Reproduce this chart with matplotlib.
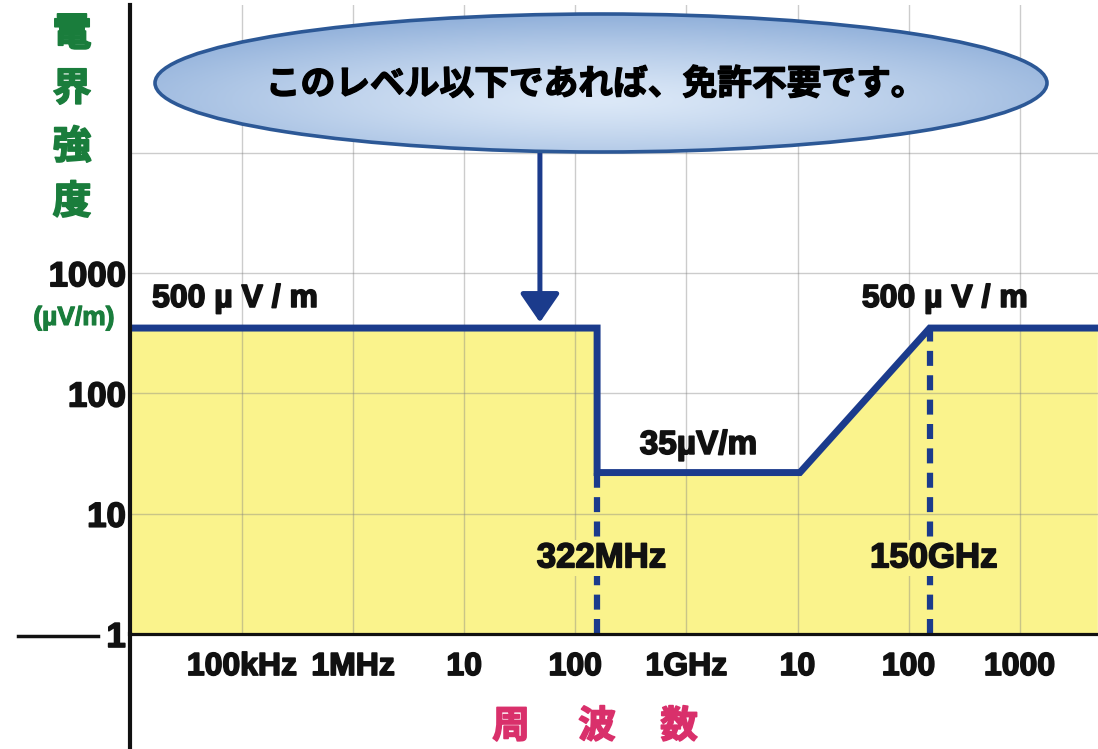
import numpy as np
import matplotlib
matplotlib.use('Agg')
import matplotlib.pyplot as plt
import matplotlib.patheffects as pe
from matplotlib.patches import Ellipse
from matplotlib.lines import Line2D

# 周波数 [Hz] と 電界強度 [uV/m] (図から読み取った値, 図は模式的)
freq = [1.0e4, 1.57e8, 1.57e8, 1.05e10, 1.55e11, 5.0e12]
level = [350, 350, 22, 22, 350, 350]

# 破線の位置とラベル
mark_freq = [1.57e8, 1.55e11]
mark_top = [22, 350]
mark_text = ['322MHz', '150GHz']

xticks = [1e5, 1e6, 1e7, 1e8, 1e9, 1e10, 1e11, 1e12]
xlabels = ['100kHz', '1MHz', '10', '100', '1GHz', '10', '100', '1000']
yticks = [1, 10, 100, 1000, 10000]
ylabels = ['1', '10', '100', '1000', '']

navy = '#1b3b8c'
yellow = '#faf38c'
green = '#1a7d3c'
magenta = '#d9306b'
latin = 'Liberation Sans'
cjk = ['Noto Sans CJK JP', 'DejaVu Sans']


def heavy(c, w=1.2):
    # 文字を太く見せる
    return [pe.withStroke(linewidth=w, foreground=c)]


W, H = 1098, 749
fig = plt.figure(figsize=(W / 100, H / 100), dpi=100)
ax = fig.add_axes([130 / W, 115 / H, 968 / W, 629 / H])
ax.set_xscale('log')
ax.set_yscale('log')
ax.set_xlim(9.8e3, 5.07e12)
ax.set_ylim(1, 1.7e5)

# 黄色の領域と境界線
ax.fill_between(freq, level, 1, color=yellow, lw=0, zorder=1)
ax.plot(freq, level, color=navy, lw=5, solid_joinstyle='miter', zorder=4)
for f, top in zip(mark_freq, mark_top):
    ax.plot([f, f], [1, top], color=navy, lw=4.5, dashes=(2.4, 1.5), zorder=4)

ax.set_xticks(xticks)
ax.set_xticklabels(xlabels, fontfamily=latin, fontweight='bold', fontsize=23)
ax.set_yticks(yticks)
ax.set_yticklabels(ylabels, fontfamily=latin, fontweight='bold', fontsize=25)
for t in ax.get_xticklabels() + ax.get_yticklabels():
    t.set_path_effects(heavy('#111111'))
    t.set_color('#111111')
ax.minorticks_off()
ax.tick_params(axis='x', length=0, pad=13)
ax.tick_params(axis='y', length=0, pad=3)
ax.set_axisbelow(False)
ax.grid(True, color='#808080', lw=1, alpha=0.4)
for s in ['top', 'right']:
    ax.spines[s].set_visible(False)
ax.spines['left'].set_linewidth(3)
ax.spines['bottom'].set_linewidth(2.3)
ax.spines['left'].set_color('#111111')
ax.spines['bottom'].set_color('#111111')
ax.spines['left'].set_zorder(6)
ax.spines['bottom'].set_zorder(6)

# 縦軸の下への延長と「1」の前の線
fig.add_artist(Line2D([130 / W, 130 / W], [0, 115 / H], color='#111111', lw=3))
fig.add_artist(Line2D([18 / W, 98 / W], [1 - 636 / H, 1 - 636 / H], color='#111111', lw=2.5))

# 矢印
ax.annotate('', xy=(4.8e7, 390), xytext=(4.8e7, 1.28e4),
            arrowprops=dict(arrowstyle='-|>,head_width=0.55,head_length=0.8',
                            lw=3.6, color=navy, shrinkA=0, shrinkB=0,
                            mutation_scale=22), zorder=5)

# ラベル
txt = dict(fontfamily=latin, fontweight='bold', color='#111111', zorder=7,
           path_effects=heavy('#111111'))
ax.text(1.55e4, 611, '500 µ V / m', fontsize=23, ha='left', va='center', **txt)
ax.text(3.8e10, 611, '500 µ V / m', fontsize=23, ha='left', va='center', **txt)
ax.text(3.8e8, 37, '35µV/m', fontsize=24, ha='left', va='center', **txt)
box = dict(facecolor=yellow, edgecolor='none', pad=1)
ax.text(4.5e7, 4.3, mark_text[0], fontsize=25, ha='left', va='center', bbox=box, **txt)
ax.text(4.5e10, 4.3, mark_text[1], fontsize=25, ha='left', va='center', bbox=box, **txt)

# 吹き出し (楕円)
eax = fig.add_axes([155 / W, 1 - 152 / H, 892 / W, 138 / H])
eax.set_xlim(0, 1)
eax.set_ylim(0, 1)
eax.axis('off')
u, v = np.meshgrid(np.linspace(-1, 1, 300), np.linspace(-1, 1, 120))
r = np.clip(np.sqrt(u ** 2 + (v + 0.25) ** 2) / 1.2, 0, 1) ** 1.3
light = np.array([0.86, 0.91, 0.97])
dark = np.array([0.58, 0.70, 0.86])
img = light + (dark - light) * r[..., None]
ell = Ellipse((0.5, 0.5), 1, 1, facecolor='none', edgecolor='#2c5896', lw=2.6,
              clip_on=False, zorder=3)
eax.add_patch(ell)
im = eax.imshow(img, extent=[0, 1, 0, 1], origin='lower', aspect='auto', zorder=2)
im.set_clip_path(ell)
fig.text(596 / W, 1 - 84 / H, 'このレベル以下であれば、免許不要です。',
         fontfamily=cjk, fontweight='bold', fontsize=25, ha='center', va='center',
         path_effects=heavy('black', 1.0))

# 軸タイトル
for ch, yp in zip('電界強度', [34, 89, 147, 202]):
    fig.text(72 / W, 1 - yp / H, ch, fontfamily=cjk, fontweight='bold',
             fontsize=28, color=green, ha='center', va='center',
             path_effects=heavy(green))
fig.text(74 / W, 1 - 318 / H, '(µV/m)', fontfamily=latin, fontweight='bold',
         fontsize=19, color=green, ha='center', va='center',
         path_effects=heavy(green, 0.8))
for ch, xp in zip('周波数', [511, 597, 679]):
    fig.text(xp / W, 1 - 726 / H, ch, fontfamily=cjk, fontweight='bold',
             fontsize=27, color=magenta, ha='center', va='center',
             path_effects=heavy(magenta))

fig.savefig('out.png', dpi=100)
